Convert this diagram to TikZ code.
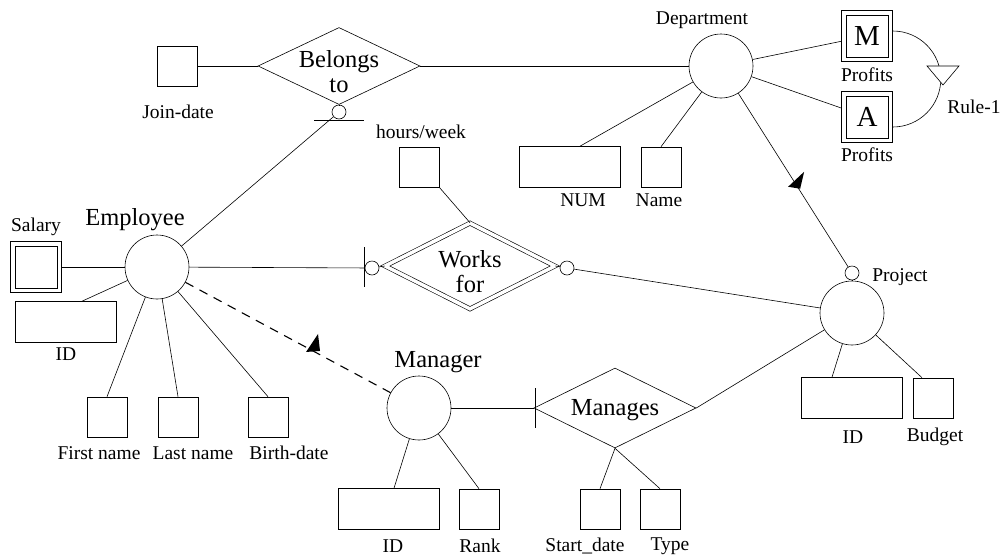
\documentclass[tikz,border=0pt]{standalone}
\usepackage{fontspec}
\setmainfont{Liberation Serif}
\usetikzlibrary{shapes.geometric}

\begin{document}
\begin{tikzpicture}[x=1pt,y=-1pt,line width=0.6pt,every node/.style={inner sep=0pt},
    ent/.style={circle,draw,minimum size=64pt},
    attr/.style={draw,minimum width=40pt,minimum height=40pt},
    wide/.style={draw,minimum width=101pt,minimum height=41pt},
    dattr/.style={draw,minimum width=51pt,minimum height=51pt},
    rel/.style={diamond,draw,minimum width=162pt,minimum height=77pt},
    opt/.style={circle,draw,minimum size=14pt},
    lbl/.style={font=\fontsize{19.5}{21}\selectfont},
    big/.style={font=\fontsize{24.5}{25}\selectfont,align=center}]
    \useasboundingbox (0,0) rectangle (1002,558);
    %
    \node[attr] (joindate) at (177,66) {};
    \node[lbl] (joindateL) at (178,112) {Join-date};
    \node[rel,label={[big,yshift=-6pt]center:Belongs\\to}] (belongs) at (339,66) {};
    \node[opt] (belongsO) at (339,112) {};
    \coordinate (belbar) at (339,120);

    \node[ent] (dept) at (721,66) {};
    \node[lbl] (deptL) at (702,20) {Department};
    \node[dattr,font=\fontsize{29}{29}\selectfont] (profM) at (867,36) {M};
    \node[lbl] (profML) at (867,75) {Profits};
    \node[dattr,font=\fontsize{29}{29}\selectfont] (profA) at (867,117) {A};
    \node[lbl] (profAL) at (867,155) {Profits};
    \coordinate (rule) at (943,66);
    \node[lbl] (ruleL) at (974,107) {Rule-1};
    \node[wide] (num) at (570,167) {};
    \node[lbl] (numL) at (583,200) {NUM};
    \node[attr] (name) at (661,167) {};
    \node[lbl] (nameL) at (659,200) {Name};

    \node[attr] (hours) at (419,167) {};
    \node[lbl] (hoursL) at (421,132) {hours/week};
    \node[diamond,draw,double,double distance=3.5pt,minimum width=170pt,minimum height=86pt,
        label={[big,yshift=-6pt]center:Works\\for}] (works) at (470,266) {};
    \node[opt] (worksL) at (372,268) {};
    \node[opt] (worksR) at (567,268) {};
    \coordinate (worksbar) at (364,267);

    \node[ent] (proj) at (852,313) {};
    \node[opt] (projO) at (852,273) {};
    \node[lbl] (projL) at (900,277) {Project};
    \node[wide] (projid) at (852,398) {};
    \node[lbl] (projidL) at (853,437) {ID};
    \node[attr] (budget) at (933,398) {};
    \node[lbl] (budgetL) at (935,437) {Budget};

    \node[ent] (emp) at (157,267) {};
    \node[big] (empL) at (135,220) {Employee};
    \node[dattr] (salary) at (36,267) {};
    \node[lbl] (salaryL) at (36,227) {Salary};
    \node[wide] (empid) at (66,322) {};
    \node[lbl] (empidL) at (66,354) {ID};
    \node[attr] (first) at (107,417) {};
    \node[lbl] (firstL) at (99,453) {First name};
    \node[attr] (last) at (178,417) {};
    \node[lbl] (lastL) at (193,453) {Last name};
    \node[attr] (birth) at (268,417) {};
    \node[lbl] (birthL) at (289,453) {Birth-date};

    \node[ent] (mgr) at (419,408) {};
    \node[big] (mgrL) at (438,362) {Manager};
    \node[rel,minimum height=80pt,label={[big,yshift=-2pt]center:Manages}] (manages) at (615,408) {};
    \coordinate (mgsbar) at (535,408);
    \node[wide] (mgrid) at (389,509) {};
    \node[lbl] (mgridL) at (393,546) {ID};
    \node[attr] (rank) at (479,509) {};
    \node[lbl] (rankL) at (480,546) {Rank};
    \node[attr] (start) at (600,509) {};
    \node[lbl] (startL) at (585,546) {Start\_date};
    \node[attr] (type) at (660,509) {};
    \node[lbl] (typeL) at (670,546) {Type};
    %
    \foreach \b in {profM,profA,salary}
        \draw ([shift={(5,5)}]\b.north west) rectangle ([shift={(-5,-5)}]\b.south east);

    \draw (joindate) edge (belongs);
    \draw (belongs) edge (dept);
    \draw (belongs.south) edge (belongsO);
    \draw (belongsO) edge (emp);
    \draw (belbar) ++(-25,0) -- ++(50,0);

    \draw (dept) edge (profM);
    \draw (dept) edge (profA);
    \draw ([yshift=5pt]profM.east) arc[start angle=90,end angle=-90,radius=48pt];
    \filldraw[fill=white] (rule) ++(-16,0) -- ++(32,0) -- ++(-16,19) -- cycle;
    \draw (dept) edge ([xshift=10pt]num.north);
    \draw (dept) edge (name.north);
    \draw (dept) edge (projO);
    \path (dept) -- (projO) coordinate[pos=0.527] (deptmk);
    \fill (deptmk) ++(8,-13) -- ++(-16,15) -- ++(12,2) -- cycle;

    \draw (hours.south east) edge (works.north);
    \draw (emp) edge (worksL);
    \draw (worksL) edge (works.west);
    \draw (works.east) edge (worksR);
    \draw (worksR) edge (proj);
    \draw (worksbar) ++(0,-20) -- ++(0,40);

    \draw (projO) edge (proj);
    \draw (proj) edge ([xshift=-20pt]projid.north);
    \draw (proj) edge ([xshift=-11pt]budget.north);

    \draw (emp) edge (salary);
    \draw (emp) edge ([xshift=16pt]empid.north);
    \draw (emp) edge (first.north);
    \draw (emp) edge (last.north);
    \draw (emp) edge (birth.north);
    \draw[line width=1.1pt,dash pattern=on 9pt off 7pt] (emp) -- (mgr);
    \path (emp) -- (mgr) coordinate[pos=0.622] (empmk);
    \fill (empmk) ++(5,-17) -- ++(-12,18) -- ++(14,-1) -- cycle;

    \draw (mgr) edge (manages.west);
    \draw (mgsbar) ++(0,-20) -- ++(0,40);
    \draw (manages.east) edge (proj);
    \draw (manages.south) edge (start.north);
    \draw (manages.south) edge (type.north);
    \draw (mgr) edge ([xshift=5pt]mgrid.north);
    \draw (mgr) edge (rank.north);
    %
\end{tikzpicture}
\end{document}
